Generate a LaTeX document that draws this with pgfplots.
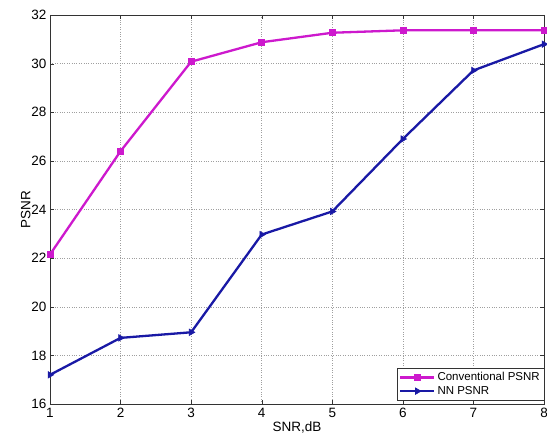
\documentclass[border=0pt]{standalone}
\usepackage{pgfplots}
\pgfplotsset{compat=1.18}
\usepackage{fontspec}
\setmainfont{Liberation Sans}
\definecolor{mag}{RGB}{205,25,205}
\definecolor{nnb}{RGB}{25,25,165}
\begin{document}
\begin{tikzpicture}
\begin{axis}[
  scale only axis,
  width=494pt, height=389pt,
  xmin=1, xmax=8, ymin=16, ymax=32,
  xtick={1,...,8}, ytick={16,18,...,32},
  grid=major,
  major grid style={dotted, gray!75, line width=0.5pt},
  axis line style={black!80, line width=0.7pt},
  tick style={black!80},
  tick align=inside,
  major tick length=4pt,
  xlabel={SNR,dB}, ylabel={PSNR},
  label style={font=\fontsize{13.5}{15}\selectfont},
  ticklabel style={font=\fontsize{13.5}{15}\selectfont},
  /pgf/number format/assume math mode=true,
  xticklabel style={yshift=-1pt},
  xlabel style={yshift=3pt},
  ylabel style={yshift=-6pt},
  legend cell align=left,
  legend style={at={(1,0.01)}, anchor=south east, font=\fontsize{11.5}{13}\selectfont, draw=black!80, inner sep=2pt, row sep=0pt},
  legend image code/.code={\draw[mark repeat=2,mark phase=2] plot coordinates {(0cm,0cm) (0.6cm,0cm) (1.2cm,0cm)};},
]
\addplot[color=mag, line width=2.3pt, mark=square*, mark size=3pt, mark options={fill=mag, line width=0.6pt}]
 coordinates {(1,22.15) (2,26.4) (3,30.08) (4,30.88) (5,31.27) (6,31.37) (7,31.37) (8,31.37)};
\addlegendentry{Conventional PSNR}
\addplot[color=nnb, line width=2.3pt, mark=triangle*, mark size=3.7pt, mark options={rotate=-90, fill=nnb, line width=0.6pt}]
 coordinates {(1,17.2) (2,18.72) (3,18.95) (4,22.97) (5,23.92) (6,26.9) (7,29.72) (8,30.8)};
\addlegendentry{NN PSNR}
\end{axis}
\pgfresetboundingbox
\path ([shift={(-50pt,-33pt)}]current axis.south west) rectangle ([shift={(3pt,15pt)}]current axis.north east);
\end{tikzpicture}
\end{document}
